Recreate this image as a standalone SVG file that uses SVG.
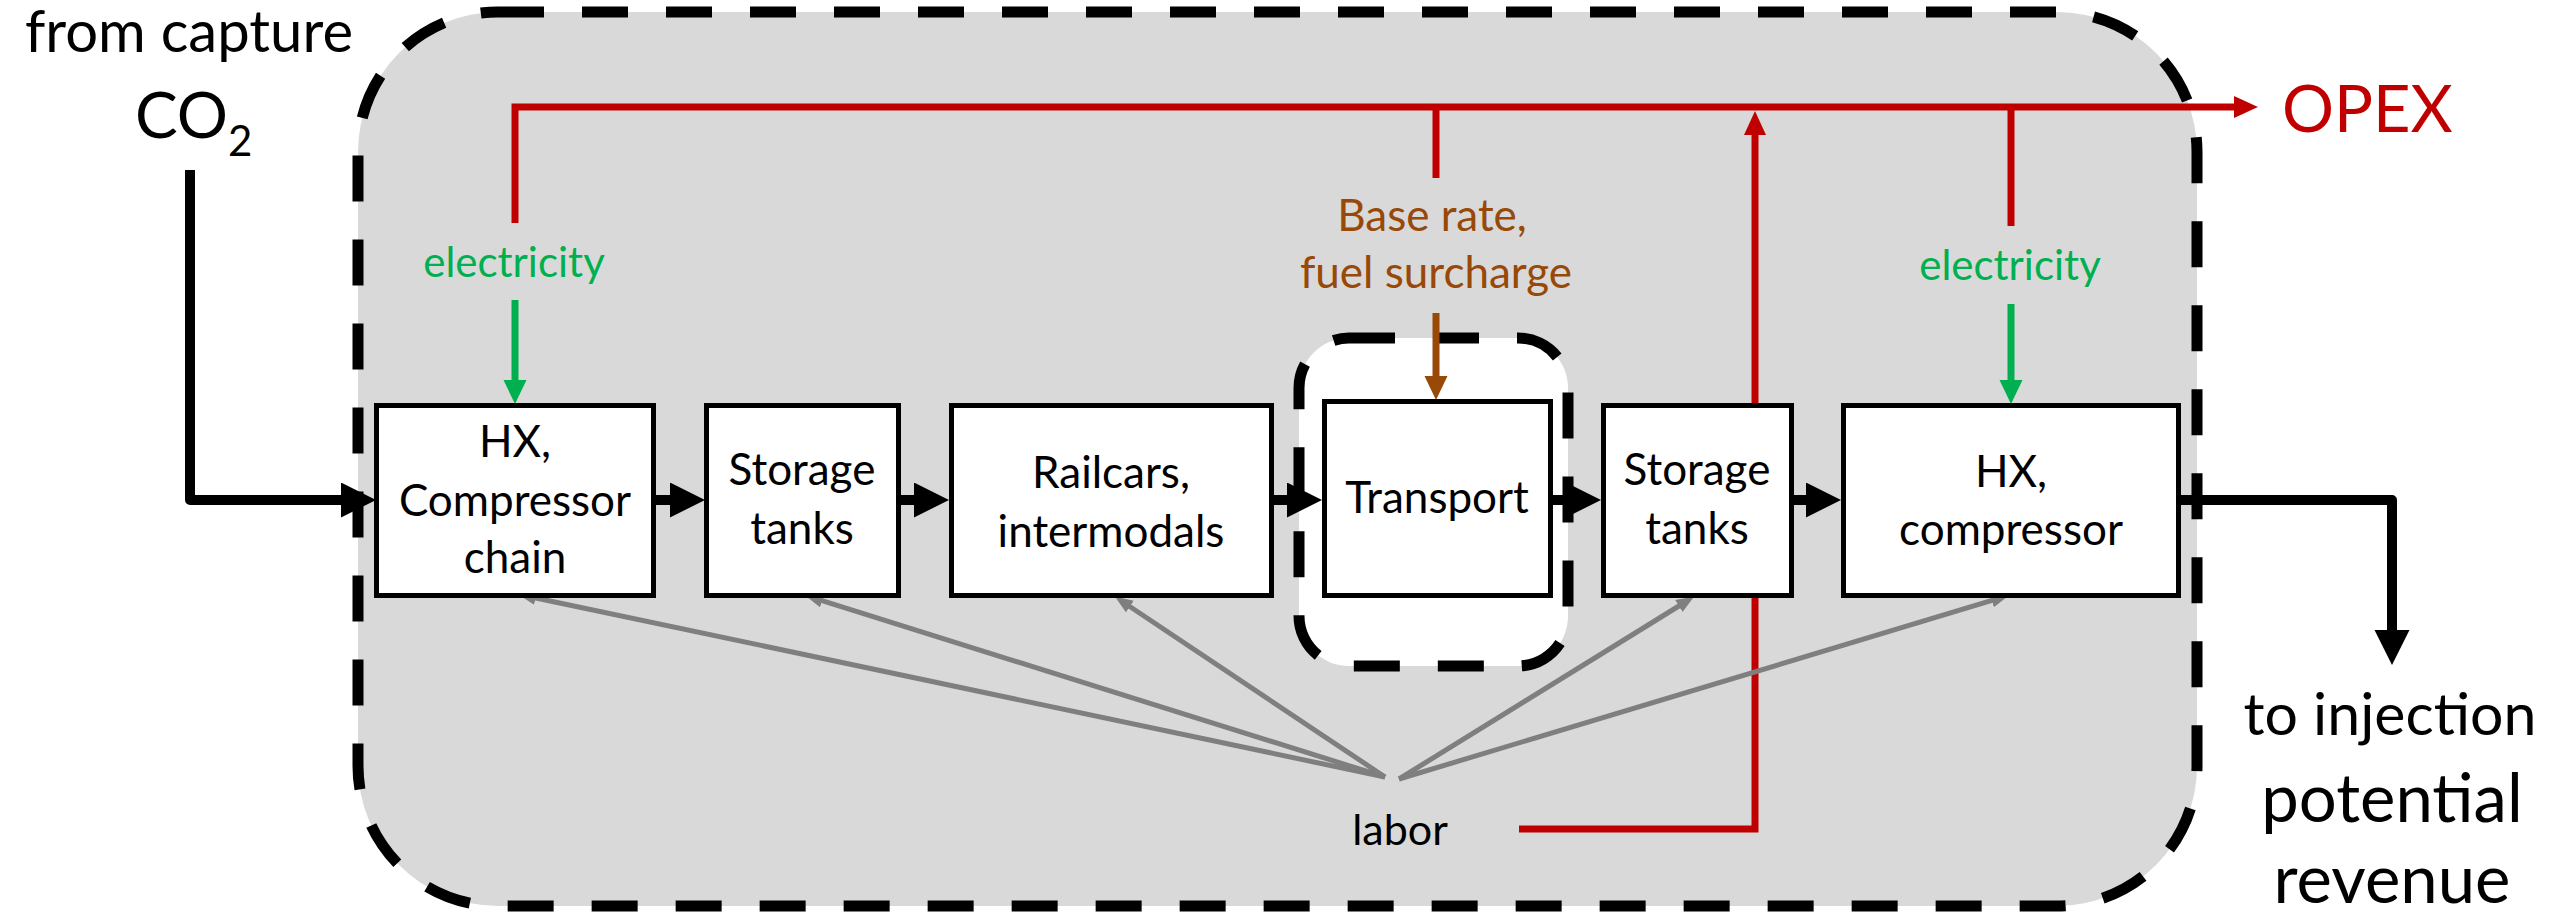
<svg xmlns="http://www.w3.org/2000/svg" width="2552" height="920" viewBox="0 0 2552 920">
<style>
text{font-family:"Lato","Open Sans",sans-serif;}
.box{fill:#fff;stroke:#000;stroke-width:5;}
.bt{font-size:44px;fill:#000;text-anchor:middle;}
.dash{stroke:#000;stroke-width:11;stroke-dasharray:46 38;}
.blk{fill:none;stroke:#000;stroke-width:10;stroke-linejoin:round;}
.red{fill:none;stroke:#c00000;stroke-width:7;}
.grn{fill:none;stroke:#00b050;stroke-width:7;}
.brn{fill:none;stroke:#984807;stroke-width:7;}
.gry{fill:none;stroke:#7f7f7f;stroke-width:5;}
</style>
<defs>
<marker id="mb" markerUnits="userSpaceOnUse" markerWidth="36" markerHeight="36" refX="1" refY="17.5" orient="auto"><path d="M0,0 L35,17.5 L0,35 z" fill="#000"/></marker>
<marker id="mr" markerUnits="userSpaceOnUse" markerWidth="26" markerHeight="24" refX="1" refY="11" orient="auto"><path d="M0,0 L24,11 L0,22 z" fill="#c00000"/></marker>
<marker id="mg" markerUnits="userSpaceOnUse" markerWidth="26" markerHeight="24" refX="1" refY="11.5" orient="auto"><path d="M0,0 L24,11.5 L0,23 z" fill="#00b050"/></marker>
<marker id="mn" markerUnits="userSpaceOnUse" markerWidth="26" markerHeight="24" refX="1" refY="11.5" orient="auto"><path d="M0,0 L24,11.5 L0,23 z" fill="#984807"/></marker>
<marker id="mgy" markerUnits="userSpaceOnUse" markerWidth="20" markerHeight="16" refX="1" refY="7" orient="auto"><path d="M0,0 L18,7 L0,14 z" fill="#7f7f7f"/></marker>
</defs>

<g id="container">
<rect x="358" y="12" width="1839" height="894" rx="140" ry="140" fill="#d9d9d9" class="dash"/>
</g>
<g id="transport-zone">
<rect x="1299" y="338" width="269" height="328" rx="50" ry="50" fill="#fff" class="dash"/>
</g>

<g id="connectors">
<path class="red" d="M1519,829 H1755 V134" marker-end="url(#mr)"/>
<path class="red" d="M515,223 V107 H2235" marker-end="url(#mr)"/>
<path class="red" d="M1436,178 V107"/>
<path class="red" d="M2011,226 V107"/>
<path class="grn" d="M515,300 V381" marker-end="url(#mg)"/>
<path class="grn" d="M2011,304 V381" marker-end="url(#mg)"/>
<path class="brn" d="M1436,313 V377" marker-end="url(#mn)"/>
<path class="blk" d="M190,170 V500 H342" marker-end="url(#mb)"/>
<path class="blk" d="M654,500 H671" marker-end="url(#mb)"/>
<path class="blk" d="M899,500 H915" marker-end="url(#mb)"/>
<path class="blk" d="M1272,500 H1288" marker-end="url(#mb)"/>
<path class="blk" d="M1551,500 H1567" marker-end="url(#mb)"/>
<path class="blk" d="M1792,500 H1807" marker-end="url(#mb)"/>
<path class="blk" d="M2179,500 H2392 V631" marker-end="url(#mb)"/>
<path class="gry" d="M1385,777 L534.6,597.7" marker-end="url(#mgy)"/>
<path class="gry" d="M1385,777 L821.2,600.4" marker-end="url(#mgy)"/>
<path class="gry" d="M1385,777 L1129,606" marker-end="url(#mgy)"/>
<path class="gry" d="M1399,779 L1679.7,605.5" marker-end="url(#mgy)"/>
<path class="gry" d="M1399,779 L1992.8,600.2" marker-end="url(#mgy)"/>
</g>

<g id="hx-compressor-chain">
<rect class="box" x="376.5" y="405.5" width="277" height="190"/>
<text class="bt" x="515" y="457">HX,</text>
<text class="bt" x="515" y="516">Compressor</text>
<text class="bt" x="515" y="573">chain</text>
</g>
<g id="storage-tanks-1">
<rect class="box" x="706.5" y="405.5" width="192" height="190"/>
<text class="bt" x="802" y="485">Storage</text>
<text class="bt" x="802" y="544">tanks</text>
</g>
<g id="railcars">
<rect class="box" x="951.5" y="405.5" width="320" height="190"/>
<text class="bt" x="1111" y="488">Railcars,</text>
<text class="bt" x="1111" y="547">intermodals</text>
</g>
<g id="transport">
<rect class="box" x="1324.5" y="401.5" width="226" height="194"/>
<text class="bt" x="1437" y="513">Transport</text>
</g>
<g id="storage-tanks-2">
<rect class="box" x="1603.5" y="405.5" width="188" height="190"/>
<text class="bt" x="1697" y="485">Storage</text>
<text class="bt" x="1697" y="544">tanks</text>
</g>
<g id="hx-compressor">
<rect class="box" x="1843.5" y="405.5" width="335" height="190"/>
<text class="bt" x="2011" y="487">HX,</text>
<text class="bt" x="2011" y="545">compressor</text>
</g>

<g id="labels">
<text x="189" y="52" font-size="58" text-anchor="middle">from capture</text>
<text x="135" y="138" font-size="64">CO<tspan font-size="42" dy="18">2</tspan></text>
<text x="2282" y="132" font-size="65" fill="#c00000">OPEX</text>
<text x="514" y="277" font-size="42" fill="#00b050" text-anchor="middle">electricity</text>
<text x="2010" y="280" font-size="42" fill="#00b050" text-anchor="middle">electricity</text>
<text x="1432" y="231" font-size="44" fill="#984807" text-anchor="middle">Base rate,</text>
<text x="1436" y="288" font-size="44" fill="#984807" text-anchor="middle">fuel surcharge</text>
<text x="1400" y="845" font-size="43" text-anchor="middle">labor</text>
<text x="2390" y="735" font-size="59" text-anchor="middle">to injection</text>
<text x="2392" y="822" font-size="67" text-anchor="middle">potential</text>
<text x="2392" y="903" font-size="67" text-anchor="middle">revenue</text>
</g>
</svg>
